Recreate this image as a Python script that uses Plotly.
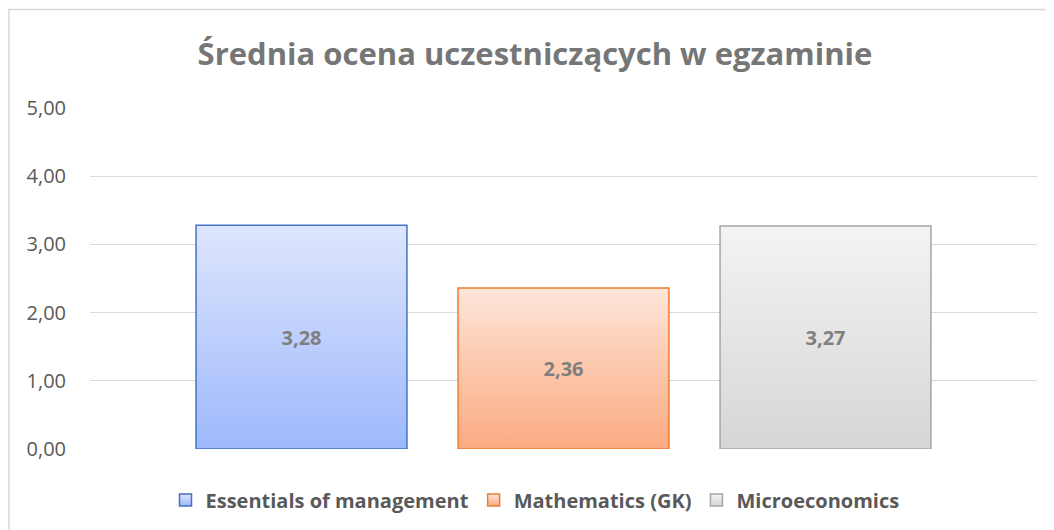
import json
import plotly.graph_objects as go

series_names = ["Essentials of management", "Mathematics (GK)", "Microeconomics"]
values = [3.28, 2.36, 3.27]
category = [""]
fill_colors = ["#bccdfb", "#fcc6a9", "#e5e5e5"]
grad_top = ["#dee6fd", "#fde5d9", "#f3f3f3"]
grad_bottom = ["#9db8fb", "#fbaa80", "#d6d6d6"]
line_colors = ["#4472c4", "#ed7d31", "#a5a5a5"]
title_text = "Średnia ocena uczestniczących w egzaminie"

# page has an 8px body margin; plot area in screenshot: x 90..1037, y 108..449
fig = go.Figure()
for name, v, fc, lc in zip(series_names, values, fill_colors, line_colors):
    fig.add_trace(go.Bar(
        x=category, y=[v], name=name,
        marker=dict(color=fc, line=dict(color=lc, width=1.5)),
        text=[f"{v:.2f}".replace(".", ",")],
        textposition="inside", insidetextanchor="middle",
        textfont=dict(family="Open Sans", size=20, color="#7f7f7f", weight="bold"),
        hoverinfo="skip",
    ))

fig.update_layout(
    width=1054, height=530,
    margin=dict(l=82, r=25, t=100, b=89),
    paper_bgcolor="white", plot_bgcolor="white",
    barmode="group", bargap=0.17, bargroupgap=0.195,
    separators=", ",
    title=dict(text=title_text, x=0.5, xanchor="center", xref="container",
               y=1 - 46 / 530, yanchor="middle",
               font=dict(family="Open Sans", size=31, color="#767676", weight="bold")),
    xaxis=dict(showticklabels=False, showgrid=False, zeroline=False, showline=False, ticks=""),
    yaxis=dict(range=[0, 5], dtick=1, tickformat=".2f", showgrid=True, gridcolor="#d9d9d9",
               gridwidth=1.3, zeroline=False, showline=False,
               tickfont=dict(family="Open Sans", size=20, color="#595959"),
               ticklabelstandoff=23),
    legend=dict(orientation="h", x=0.5, xanchor="center", xref="container",
                y=38 / 530, yanchor="middle", yref="container",
                font=dict(family="Open Sans", size=20, color="#595959", weight="bold"),
                itemwidth=30, traceorder="normal"),
    showlegend=True,
    shapes=[dict(type="rect", xref="paper", yref="paper",
                 x0=(9 - 90) / 947, x1=(1070 - 90) / 947,
                 y0=(449 - 560) / 341, y1=(449 - 9.5) / 341,
                 line=dict(color="#d9d9d9", width=1.5), fillcolor="rgba(0,0,0,0)", layer="below")],
)

post_js = """
(function(){
  var gd = document.getElementById('{plot_id}');
  var NS = 'http://www.w3.org/2000/svg';
  var tops = TOPS, bots = BOTS;
  var defs = gd.querySelector('.main-svg defs');
  tops.forEach(function(t, i){
    var lg = document.createElementNS(NS, 'linearGradient');
    lg.setAttribute('id', 'bargrad' + i);
    lg.setAttribute('x1', '0'); lg.setAttribute('y1', '0');
    lg.setAttribute('x2', '0'); lg.setAttribute('y2', '1');
    var s1 = document.createElementNS(NS, 'stop');
    s1.setAttribute('offset', '0'); s1.setAttribute('stop-color', t);
    var s2 = document.createElementNS(NS, 'stop');
    s2.setAttribute('offset', '1'); s2.setAttribute('stop-color', bots[i]);
    lg.appendChild(s1); lg.appendChild(s2);
    defs.appendChild(lg);
  });
  gd.querySelectorAll('.barlayer .trace').forEach(function(tr, i){
    tr.querySelectorAll('path').forEach(function(p){ p.style.fill = 'url(#bargrad' + i + ')'; });
  });
  gd.querySelectorAll('.legend .traces').forEach(function(tr, i){
    tr.querySelectorAll('.legendpoints path').forEach(function(p){ p.style.fill = 'url(#bargrad' + i + ')'; });
  });
})();
""".replace("TOPS", json.dumps(grad_top)).replace("BOTS", json.dumps(grad_bottom))

fig.write_html("out.html", post_script=post_js)
